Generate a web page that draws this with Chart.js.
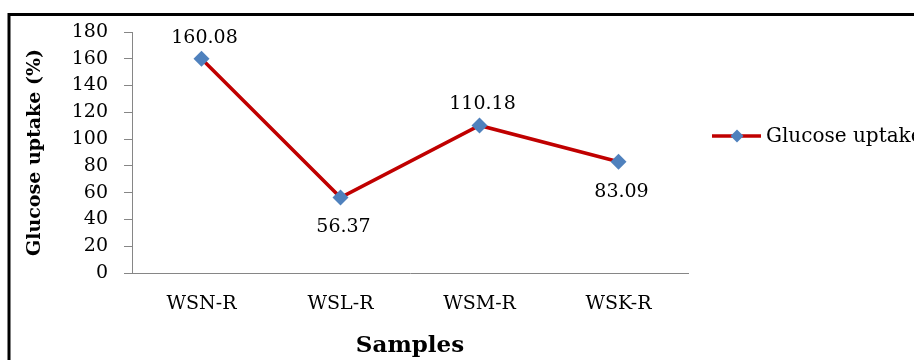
<!DOCTYPE html>
<html><head><meta charset="utf-8">
<script src="https://cdn.jsdelivr.net/npm/chart.js@4.4.1/dist/chart.umd.min.js"></script>
<style>html,body{margin:0;padding:0;background:#fff}#wrap{width:914px;height:360px;position:relative}</style>
</head><body><div id="wrap"><canvas id="c" width="914" height="360"></canvas></div>
<script>
const categories = ['WSN-R', 'WSL-R', 'WSM-R', 'WSK-R'];
const glucoseUptake = [160.08, 56.37, 110.18, 83.09];
const labelPlacement = ['above', 'below', 'above', 'below'];
const yMin = 0, yMax = 180, yStep = 20;
const seriesName = 'Glucose uptake';
const xTitle = 'Samples';
const yTitle = 'Glucose uptake (%)';

const SERIF = '"DejaVu Serif", serif';
const LINE = '#C00000', MARK = '#4F81BD', AXIS = '#868686';

const framePlugin = {
  id: 'frame',
  beforeDraw(chart) {
    const ctx = chart.ctx;
    ctx.save();
    ctx.strokeStyle = '#000'; ctx.lineWidth = 3;
    ctx.beginPath();
    ctx.moveTo(9, 360); ctx.lineTo(9, 14.5); ctx.lineTo(914, 14.5);
    ctx.stroke();
    ctx.restore();
  }
};

const labelsPlugin = {
  id: 'dataLabels',
  afterDatasetsDraw(chart) {
    const ctx = chart.ctx;
    const meta = chart.getDatasetMeta(0);
    const ds = chart.data.datasets[0];
    ctx.save();
    ctx.font = '19px ' + SERIF;
    ctx.fillStyle = '#000';
    ctx.textAlign = 'center';
    ctx.textBaseline = 'middle';
    meta.data.forEach((pt, i) => {
      const dy = labelPlacement[i] === 'above' ? -21 : 30;
      ctx.fillText(ds.data[i].toFixed(2), pt.x + 3, pt.y + dy);
    });
    ctx.restore();
  }
};

const legendPlugin = {
  id: 'customLegend',
  afterDraw(chart) {
    const ctx = chart.ctx;
    const ds = chart.data.datasets[0];
    const y = 136;
    ctx.save();
    ctx.strokeStyle = ds.borderColor; ctx.lineWidth = 3.5;
    ctx.beginPath(); ctx.moveTo(712, y); ctx.lineTo(761, y); ctx.stroke();
    ctx.fillStyle = ds.pointBackgroundColor;
    const r = 6.5, cx = 737;
    ctx.beginPath();
    ctx.moveTo(cx, y - r); ctx.lineTo(cx + r, y); ctx.lineTo(cx, y + r); ctx.lineTo(cx - r, y);
    ctx.closePath(); ctx.fill();
    ctx.fillStyle = '#000';
    ctx.font = '20px ' + SERIF;
    ctx.textAlign = 'left'; ctx.textBaseline = 'middle';
    ctx.fillText(ds.label, 766, y + 1);
    ctx.restore();
  }
};

new Chart(document.getElementById('c'), {
  type: 'line',
  data: {
    labels: categories,
    datasets: [{
      label: seriesName,
      data: glucoseUptake,
      borderColor: LINE,
      borderWidth: 3.5,
      pointStyle: 'rectRot',
      pointRadius: 8,
      pointBackgroundColor: MARK,
      pointBorderColor: MARK,
      pointBorderWidth: 0,
      tension: 0,
      fill: false
    }]
  },
  options: {
    responsive: false,
    animation: false,
    devicePixelRatio: 1,
    layout: { padding: { left: 20, right: 226, top: 32, bottom: 0 } },
    plugins: { legend: { display: false }, tooltip: { enabled: false } },
    scales: {
      x: {
        type: 'category',
        offset: true,
        grid: { display: false, drawTicks: false },
        border: { display: true, color: AXIS, width: 1 },
        ticks: { color: '#000', font: { family: SERIF, size: 19 }, padding: 20 },
        title: { display: true, text: xTitle, color: '#000',
                 font: { family: SERIF, size: 23, weight: 'bold' }, padding: { top: 0, bottom: 0 } },
        afterFit(s) { s.height = 87; }
      },
      y: {
        min: yMin, max: yMax,
        ticks: { stepSize: yStep, color: '#000', font: { family: SERIF, size: 19 }, padding: 16 },
        grid: { drawOnChartArea: false, tickLength: 8, color: AXIS },
        border: { display: true, color: AXIS, width: 1 },
        title: { display: true, text: yTitle, color: '#000',
                 font: { family: SERIF, size: 19, weight: 'bold' }, padding: { top: 4, bottom: 0 } },
        afterFit(s) { s.width = 112; }
      }
    }
  },
  plugins: [framePlugin, labelsPlugin, legendPlugin]
});
</script>
</body></html>
